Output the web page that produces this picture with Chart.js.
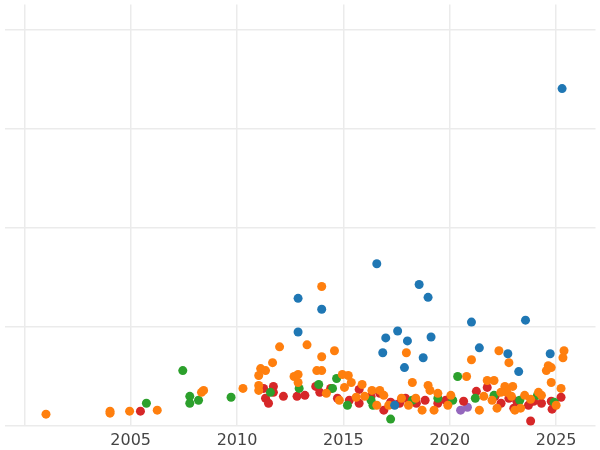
<!DOCTYPE html>
<html>
<head>
<meta charset="utf-8">
<script src="https://cdn.jsdelivr.net/npm/chart.js@4/dist/chart.umd.min.js"></script>
<style>
  html, body { margin: 0; padding: 0; background: #fff; }
  #wrap { width: 600px; height: 450px; }
</style>
</head>
<body>
<div id="wrap"><canvas id="chart"></canvas></div>
<script>
// x = year, y = value
const blueX = [2025.28, 2016.57, 2018.56, 2018.98, 2012.87, 2013.98, 2012.87, 2017.55, 2016.99, 2019.12, 2021.02, 2023.56, 2018.01, 2021.39, 2022.73, 2024.72, 2016.85, 2018.75, 2017.87, 2023.24, 2017.41];
const blueY = [3.41, 1.64, 1.43, 1.30, 1.29, 1.18, 0.95, 0.96, 0.89, 0.90, 1.05, 1.07, 0.86, 0.79, 0.73, 0.73, 0.74, 0.69, 0.59, 0.55, 0.21];

const orangeX = [2001.02, 2004.03, 2004.03, 2004.95, 2006.25, 2008.33, 2008.43, 2010.28, 2011.11, 2011.34, 2011.02, 2011.67, 2012.0, 2011.02, 2011.02, 2012.68, 2012.87, 2012.87, 2013.29, 2013.98, 2013.98, 2014.58, 2013.75, 2013.98, 2014.95, 2015.23, 2015.05, 2015.88, 2016.34, 2016.71, 2015.37, 2014.81, 2016.57, 2017.96, 2018.24, 2018.98, 2019.07, 2017.73, 2018.06, 2018.70, 2019.26, 2019.91, 2020.79, 2021.02, 2021.39, 2021.76, 2022.08, 2022.31, 2022.78, 2022.59, 2022.96, 2022.69, 2021.99, 2022.22, 2023.06, 2023.33, 2023.52, 2024.17, 2024.54, 2024.63, 2024.77, 2024.77, 2025.37, 2025.32, 2025.23, 2025.0, 2024.31, 2016.9, 2017.13, 2020.05, 2019.44, 2014.2, 2016.0, 2018.4, 2022.4, 2022.9, 2023.8, 2021.6, 2015.6];
const orangeY = [0.12, 0.15, 0.13, 0.15, 0.16, 0.34, 0.36, 0.38, 0.58, 0.56, 0.51, 0.64, 0.80, 0.41, 0.36, 0.50, 0.52, 0.44, 0.82, 1.41, 0.70, 0.76, 0.56, 0.56, 0.52, 0.51, 0.39, 0.42, 0.36, 0.36, 0.44, 0.26, 0.21, 0.74, 0.44, 0.41, 0.36, 0.28, 0.21, 0.16, 0.16, 0.21, 0.50, 0.67, 0.16, 0.46, 0.46, 0.76, 0.64, 0.40, 0.40, 0.34, 0.26, 0.18, 0.16, 0.18, 0.31, 0.34, 0.56, 0.61, 0.59, 0.44, 0.76, 0.69, 0.38, 0.21, 0.31, 0.31, 0.21, 0.31, 0.33, 0.33, 0.30, 0.28, 0.34, 0.30, 0.27, 0.30, 0.29];

const greenX = [2007.45, 2005.74, 2007.78, 2007.78, 2008.19, 2009.72, 2012.92, 2011.57, 2014.68, 2013.84, 2014.49, 2015.19, 2017.22, 2016.30, 2016.39, 2020.37, 2018.24, 2020.14, 2019.44, 2021.20, 2022.08, 2023.29, 2024.12, 2024.91];
const greenY = [0.56, 0.23, 0.30, 0.23, 0.26, 0.29, 0.38, 0.34, 0.48, 0.42, 0.38, 0.21, 0.07, 0.26, 0.21, 0.50, 0.26, 0.26, 0.28, 0.28, 0.31, 0.26, 0.31, 0.24];

const redX = [2005.46, 2011.25, 2011.71, 2011.34, 2011.48, 2012.18, 2011.71, 2013.70, 2013.89, 2014.40, 2012.82, 2013.19, 2014.72, 2015.28, 2015.74, 2016.30, 2015.74, 2016.71, 2016.90, 2017.22, 2017.64, 2017.92, 2018.43, 2018.84, 2019.44, 2019.81, 2020.65, 2021.25, 2021.76, 2022.13, 2022.41, 2022.78, 2023.15, 2023.80, 2023.70, 2023.94, 2024.31, 2024.77, 2025.23, 2024.81, 2023.01];
const redY = [0.15, 0.38, 0.40, 0.28, 0.23, 0.30, 0.34, 0.40, 0.34, 0.38, 0.30, 0.31, 0.28, 0.26, 0.23, 0.30, 0.37, 0.33, 0.16, 0.24, 0.23, 0.28, 0.23, 0.26, 0.23, 0.26, 0.25, 0.35, 0.39, 0.30, 0.23, 0.28, 0.25, 0.05, 0.21, 0.25, 0.23, 0.25, 0.29, 0.17, 0.18];

const purpleX = [2017.41, 2020.51, 2020.83];
const purpleY = [0.22, 0.16, 0.19];

const xTicks = [2000, 2005, 2010, 2015, 2020, 2025];
const yTicks = [0, 1, 2, 3, 4];

function pts(xs, ys) {
  return xs.map((x, i) => ({ x, y: ys[i] }));
}

function series(xs, ys, color) {
  return {
    data: pts(xs, ys),
    backgroundColor: color,
    borderWidth: 0,
    pointRadius: 4.5,
    pointHoverRadius: 4.5,
  };
}

new Chart(document.getElementById('chart'), {
  type: 'scatter',
  data: {
    datasets: [
      series(blueX, blueY, '#1f77b4'),
      series(orangeX, orangeY, '#ff7f0e'),
      series(greenX, greenY, '#2ca02c'),
      series(redX, redY, '#d62728'),
      series(purpleX, purpleY, '#9467bd'),
    ]
  },
  options: {
    responsive: true,
    maintainAspectRatio: false,
    animation: false,
    layout: { padding: { left: -4, top: -5, right: 0, bottom: 0 } },
    plugins: { legend: { display: false }, tooltip: { enabled: false } },
    scales: {
      x: {
        type: 'linear',
        min: 1999.07,
        max: 2026.85,
        afterBuildTicks: (axis) => { axis.ticks = xTicks.map(v => ({ value: v })); },
        afterFit: (axis) => { axis.height = 24; },
        ticks: {
          callback: (v) => v === 2000 ? '' : String(v),
          color: '#444',
          font: { family: 'DejaVu Sans', size: 16 },
          padding: 5,
          maxRotation: 0,
          autoSkip: false,
        },
        grid: { color: '#ebebeb', lineWidth: 1.5, drawTicks: false },
        border: { display: false },
      },
      y: {
        min: 0,
        max: 4.26,
        afterBuildTicks: (axis) => { axis.ticks = yTicks.map(v => ({ value: v })); },
        afterFit: (axis) => { axis.width = 0; },
        ticks: { display: false },
        grid: { color: '#ebebeb', lineWidth: 1.5, drawTicks: false },
        border: { display: false },
      }
    }
  }
});
</script>
</body>
</html>
